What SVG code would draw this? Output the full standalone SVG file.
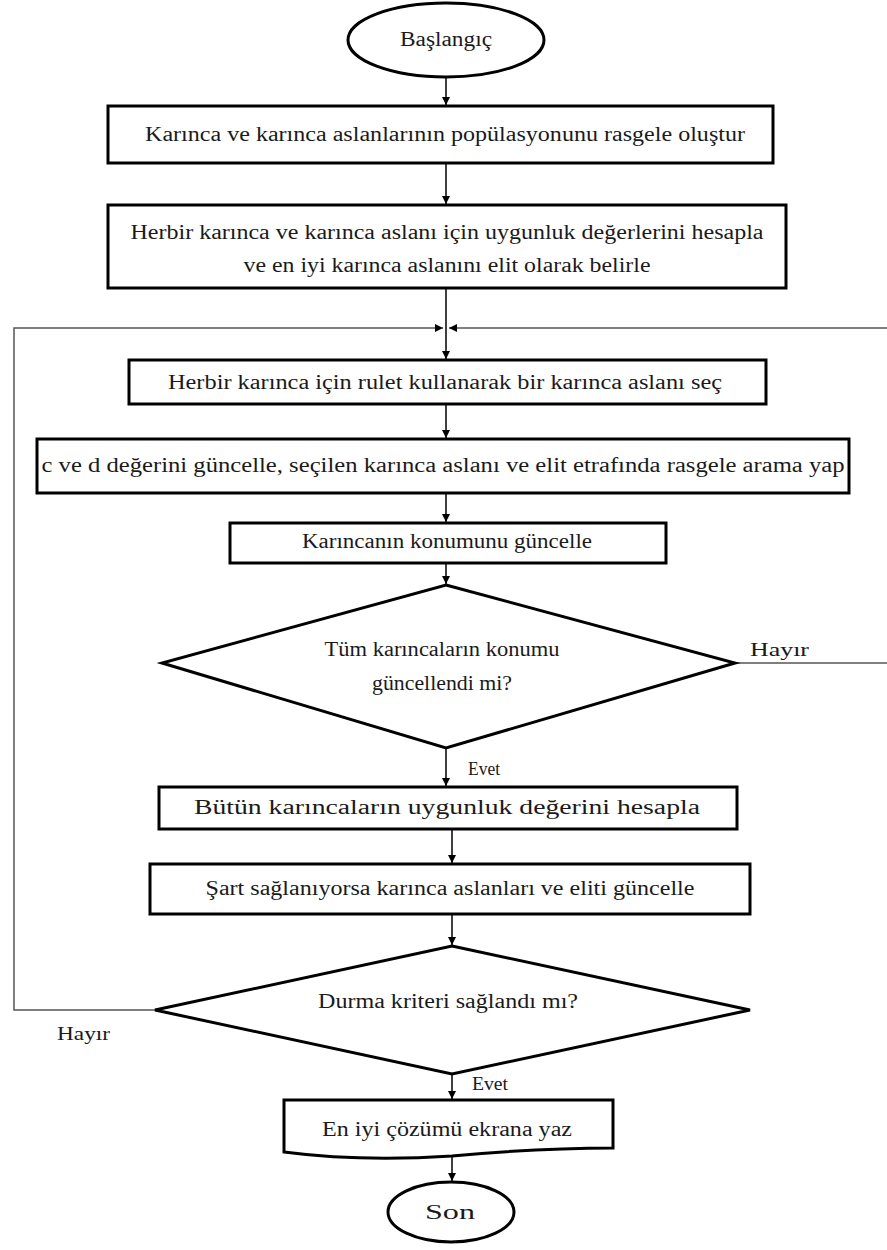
<svg xmlns="http://www.w3.org/2000/svg" width="887" height="1250" viewBox="0 0 887 1250">
<style>
.box{fill:#fff;stroke:#000;stroke-width:3}
.t{font-family:"Liberation Serif","Times New Roman",serif;font-size:20px;fill:#1a1a1a;text-anchor:middle}
.s{font-family:"Liberation Serif","Times New Roman",serif;font-size:18px;fill:#1a1a1a}
.c{fill:none;stroke:#000;stroke-width:1.5}
.g{fill:none;stroke:#555;stroke-width:1.5}
</style>
<defs>
<marker id="ah" viewBox="0 0 10 10" refX="10" refY="5" markerWidth="8" markerHeight="8" markerUnits="userSpaceOnUse" orient="auto">
<path d="M0,0 L10,5 L0,10 z" fill="#000"/>
</marker>
</defs>
<rect width="887" height="1250" fill="#fff"/>
<g id="connectors">
<line class="c" x1="446" y1="78" x2="446" y2="105" marker-end="url(#ah)"/>
<line class="c" x1="446" y1="163" x2="446" y2="204" marker-end="url(#ah)"/>
<line class="c" x1="446" y1="288" x2="446" y2="359" marker-end="url(#ah)"/>
<polyline class="g" points="155,1010 14,1010 14,328 443,328" marker-end="url(#ah)"/>
<polyline class="g" points="735,663 889,663 889,328 449,328" marker-end="url(#ah)"/>
<line class="c" x1="446" y1="404" x2="446" y2="438" marker-end="url(#ah)"/>
<line class="c" x1="446" y1="493" x2="446" y2="522" marker-end="url(#ah)"/>
<line class="c" x1="446" y1="563" x2="446" y2="584" marker-end="url(#ah)"/>
<line class="c" x1="446" y1="748" x2="446" y2="786" marker-end="url(#ah)"/>
<line class="c" x1="452" y1="829" x2="452" y2="863" marker-end="url(#ah)"/>
<line class="c" x1="452" y1="914" x2="452" y2="945" marker-end="url(#ah)"/>
<line class="c" x1="452" y1="1074" x2="452" y2="1099" marker-end="url(#ah)"/>
<line class="c" x1="452" y1="1155" x2="452" y2="1181" marker-end="url(#ah)"/>
<text class="s" x="750" y="656" textLength="59" lengthAdjust="spacingAndGlyphs">Hayır</text>
<text class="s" x="57" y="1040" textLength="53" lengthAdjust="spacingAndGlyphs">Hayır</text>
<text class="s" x="468" y="775" font-size="16" textLength="32" lengthAdjust="spacingAndGlyphs">Evet</text>
<text class="s" x="472" y="1090" font-size="16" textLength="36" lengthAdjust="spacingAndGlyphs">Evet</text>
</g>
<g id="start">
<ellipse class="box" cx="446" cy="40" rx="98" ry="37"/>
<text class="t" x="446" y="46" textLength="92" lengthAdjust="spacingAndGlyphs">Başlangıç</text>
</g>
<g id="n1">
<rect class="box" x="108" y="106" width="665" height="57"/>
<text class="t" x="445" y="141" textLength="600" lengthAdjust="spacingAndGlyphs">Karınca ve karınca aslanlarının popülasyonunu rasgele oluştur</text>
</g>
<g id="n2">
<rect class="box" x="108" y="205" width="678" height="83"/>
<text class="t" x="447" y="239" textLength="633" lengthAdjust="spacingAndGlyphs">Herbir karınca ve karınca aslanı için uygunluk değerlerini hesapla</text>
<text class="t" x="447" y="272" textLength="407" lengthAdjust="spacingAndGlyphs">ve en iyi karınca aslanını elit olarak belirle</text>
</g>
<g id="n3">
<rect class="box" x="129" y="360" width="637" height="44"/>
<text class="t" x="445" y="389" textLength="554" lengthAdjust="spacingAndGlyphs">Herbir karınca için rulet kullanarak bir karınca aslanı seç</text>
</g>
<g id="n4">
<rect class="box" x="37" y="439" width="812" height="54"/>
<text class="t" x="443" y="472" textLength="803" lengthAdjust="spacingAndGlyphs">c ve d değerini güncelle,  seçilen karınca aslanı ve elit etrafında rasgele arama yap</text>
</g>
<g id="n5">
<rect class="box" x="230" y="523" width="436" height="40"/>
<text class="t" x="447" y="548" font-size="17" textLength="290" lengthAdjust="spacingAndGlyphs">Karıncanın konumunu güncelle</text>
</g>
<g id="d1">
<polygon class="box" points="446,585 735,663 446,748 162,663"/>
<text class="t" x="442" y="656" textLength="235" lengthAdjust="spacingAndGlyphs">Tüm karıncaların konumu</text>
<text class="t" x="442" y="690" textLength="140" lengthAdjust="spacingAndGlyphs">güncellendi mi?</text>
</g>
<g id="n6">
<rect class="box" x="159" y="787" width="578" height="42"/>
<text class="t" x="447" y="814" textLength="506" lengthAdjust="spacingAndGlyphs">Bütün karıncaların  uygunluk değerini hesapla</text>
</g>
<g id="n7">
<rect class="box" x="150" y="864" width="600" height="50"/>
<text class="t" x="450" y="895" textLength="489" lengthAdjust="spacingAndGlyphs">Şart sağlanıyorsa karınca aslanları ve eliti güncelle</text>
</g>
<g id="d2">
<polygon class="box" points="452,946 750,1010 452,1074 155,1010"/>
<text class="t" x="448" y="1008" textLength="260" lengthAdjust="spacingAndGlyphs">Durma kriteri sağlandı mı?</text>
</g>
<g id="n8">
<path class="box" d="M284,1100 L613,1100 L613,1148 Q540,1148 452,1156 Q360,1162 284,1152 Z"/>
<text class="t" x="447" y="1136" textLength="250" lengthAdjust="spacingAndGlyphs">En iyi çözümü ekrana yaz</text>
</g>
<g id="end">
<ellipse class="box" cx="451" cy="1212" rx="63" ry="30"/>
<text class="t" x="450" y="1219" textLength="50" lengthAdjust="spacingAndGlyphs">Son</text>
</g>
</svg>
